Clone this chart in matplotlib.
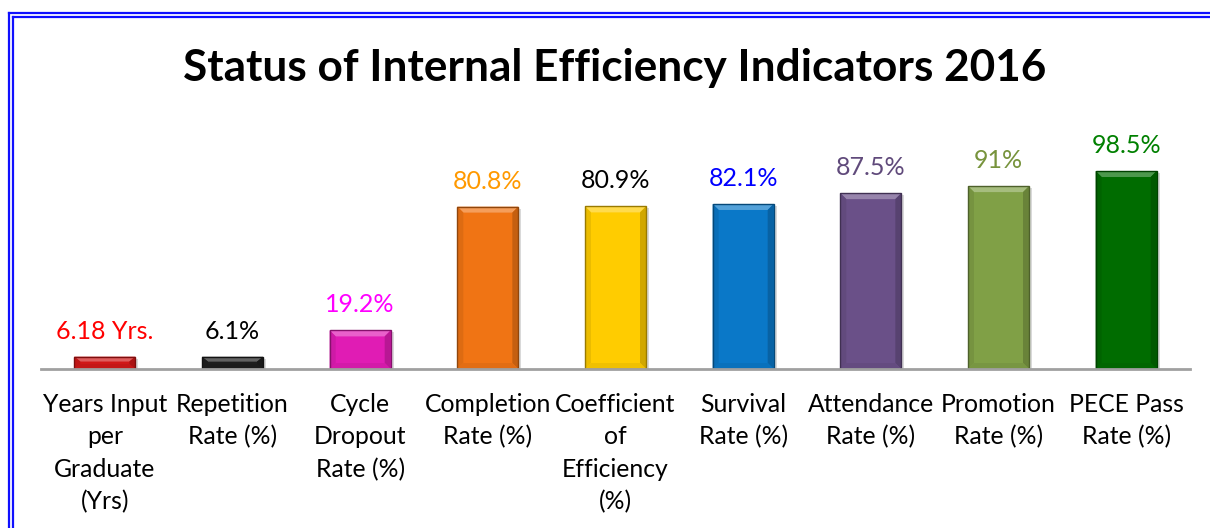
import matplotlib.pyplot as plt
from matplotlib.patches import Polygon
from matplotlib.lines import Line2D
import matplotlib.colors as mcolors

plt.rcParams['font.family'] = ['Lato', 'DejaVu Sans']

categories = [
    'Years Input\nper\nGraduate\n(Yrs)', 'Repetition\nRate (%)', 'Cycle\nDropout\nRate (%)',
    'Completion\nRate (%)', 'Coefficient\nof\nEfficiency\n(%)', 'Survival\nRate (%)',
    'Attendance\nRate (%)', 'Promotion\nRate (%)', 'PECE Pass\nRate (%)'
]
values = [6.18, 6.1, 19.2, 80.8, 80.9, 82.1, 87.5, 91, 98.5]
value_labels = ['6.18 Yrs.', '6.1%', '19.2%', '80.8%', '80.9%', '82.1%', '87.5%', '91%', '98.5%']
bar_colors = ['#D01818', '#1E1E1E', '#E01CB4', '#F07414', '#FFCC00', '#0A78C8',
              '#6A5088', '#80A046', '#006C00']
label_colors = ['#FF0000', '#000000', '#FF00FF', '#FF9900', '#000000', '#0000FF',
                '#604A7B', '#77933C', '#008000']

W, H = 1210, 528
fig = plt.figure(figsize=(W / 100, H / 100), dpi=100)
ax = fig.add_axes([41 / W, 159 / H, 1149 / W, 229 / H])
ymax = 229 / 2.01
ax.set_xlim(-0.5, len(values) - 0.5)
ax.set_ylim(0, ymax)
for s in ax.spines.values():
    s.set_visible(False)
ax.set_xticks([])
ax.set_yticks([])
ax.axhline(0, color='#A0A0A0', lw=2, zorder=5, clip_on=False)

bw = 0.478
px_x = (len(values)) / 1149.0   # data units per pixel
px_y = ymax / 229.0
d = 6  # bevel size in px


def shade(c, f):
    r, g, b = mcolors.to_rgb(c)
    if f > 0:
        return (r + (1 - r) * f, g + (1 - g) * f, b + (1 - b) * f)
    return (r * (1 + f), g * (1 + f), b * (1 + f))


bars = ax.bar(range(len(values)), values, width=bw, color=bar_colors,
              edgecolor='none', zorder=3)
for bar, c in zip(bars, bar_colors):
    x0, w, h = bar.get_x(), bar.get_width(), bar.get_height()
    x1 = x0 + w
    bx, by = d * px_x, min(d * px_y, h / 2.5)
    # shadow
    ax.add_patch(Polygon([(x0 + 2 * px_x, 0), (x1 + 3 * px_x, 0), (x1 + 3 * px_x, h - 2 * px_y),
                          (x0 + 2 * px_x, h - 2 * px_y)], closed=True,
                         facecolor='#000000', alpha=0.15, zorder=2, lw=0))
    ax.add_patch(Polygon([(x0, h), (x1, h), (x1 - bx, h - by), (x0 + bx, h - by)],
                         facecolor=shade(c, 0.3), zorder=4, lw=0))
    ax.add_patch(Polygon([(x0, 0), (x0, h), (x0 + bx, h - by), (x0 + bx, by)],
                         facecolor=shade(c, -0.08), zorder=4, lw=0))
    ax.add_patch(Polygon([(x1, 0), (x1, h), (x1 - bx, h - by), (x1 - bx, by)],
                         facecolor=shade(c, -0.18), zorder=4, lw=0))
    ax.add_patch(Polygon([(x0, 0), (x1, 0), (x1 - bx, by), (x0 + bx, by)],
                         facecolor=shade(c, -0.06), zorder=4, lw=0))
    ax.add_patch(Polygon([(x0, 0), (x1, 0), (x1, h), (x0, h)], closed=True,
                         facecolor='none', edgecolor=shade(c, -0.4), lw=1, zorder=4))

for i, (v, lab, lc) in enumerate(zip(values, value_labels, label_colors)):
    ax.annotate(lab, (i, v), xytext=(0, 13), textcoords='offset points',
                ha='center', va='baseline', fontsize=18, color=lc)
    ax.annotate(categories[i], (i, 0), xytext=(0, -17), textcoords='offset points',
                ha='center', va='top', fontsize=17.8, color='black', linespacing=1.5,
                annotation_clip=False)

fig.text(615 / W, 1 - 68 / H, 'Status of Internal Efficiency Indicators 2016',
         ha='center', va='center', fontsize=31.8, fontweight='bold')

# double blue border
for off in (9, 13):
    fig.add_artist(Line2D([off / W, 1], [1 - (off + 4) / H] * 2, color='#1010FF', lw=1.6))
    fig.add_artist(Line2D([off / W] * 2, [1 - (off + 4) / H, 0], color='#1010FF', lw=1.6))

fig.savefig('out.png', dpi=100)
